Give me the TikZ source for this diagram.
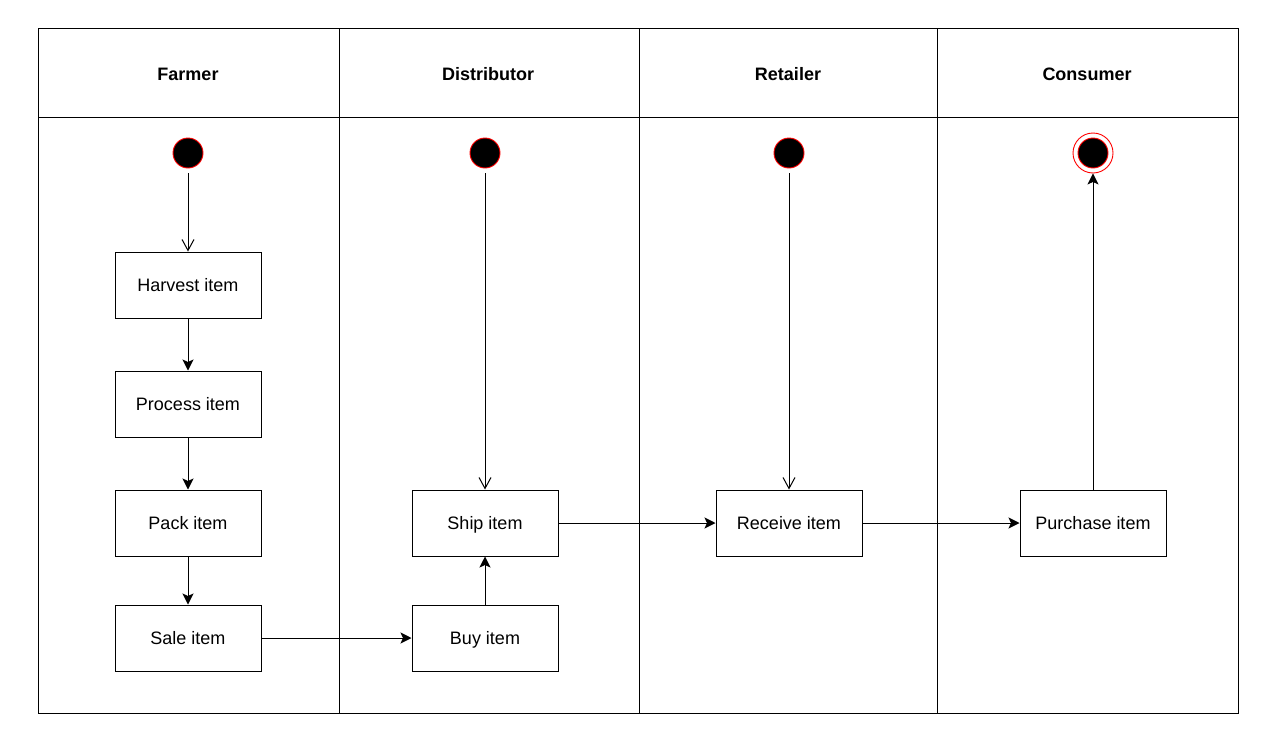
\documentclass[tikz,border=0pt]{standalone}
\usepackage{fontspec}
\setmainfont{Liberation Sans}
\usetikzlibrary{arrows.meta}
\begin{document}
\begin{tikzpicture}[x=1pt,y=-1pt,
  lane/.style={line width=1pt, draw=black},
  lanehead/.style={font=\fontsize{18}{22}\selectfont\bfseries, inner sep=0},
  action/.style={draw, line width=1pt, minimum width=146pt, minimum height=66pt,
    inner sep=0, text height=17pt, text depth=4pt, font=\fontsize{18}{22}\selectfont},
  startdot/.style={circle, fill=black, draw=red, line width=0.9pt, minimum size=30pt, inner sep=0},
  flow/.style={line width=1pt, -{Stealth[length=11pt,width=11pt,inset=2.5pt]}},
  initflow/.style={line width=1pt, -{Straight Barb[length=11pt,width=12pt,line width=1pt]},
    shorten <=5pt}
]
\useasboundingbox (0,0) rectangle (1267,747);

% swimlane frame
\draw[lane] (38,28) rectangle (1238,713);
\draw[lane] (38,117) -- (1238,117);
\draw[lane] (339,28) -- (339,713);
\draw[lane] (639,28) -- (639,713);
\draw[lane] (937,28) -- (937,713);

% lane titles
\node[lanehead] (hFarmer) at (188,74) {Farmer};
\node[lanehead] (hDist) at (488,74) {Distributor};
\node[lanehead] (hRet) at (788,74) {Retailer};
\node[lanehead] (hCons) at (1087,74) {Consumer};

% initial and final nodes
\node[startdot] (s1) at (188,153) {};
\node[startdot] (s2) at (485,153) {};
\node[startdot] (s3) at (789,153) {};
\node[startdot] (fin) at (1093,153) {};
\node[circle, draw=red, line width=0.9pt, minimum size=40pt, inner sep=0] (finring) at (1093,153) {};

% actions
\node[action] (harvest) at (188,285) {Harvest item};
\node[action] (process) at (188,404) {Process item};
\node[action] (pack) at (188,523) {Pack item};
\node[action] (sale) at (188,638) {Sale item};
\node[action] (ship) at (485,523) {Ship item};
\node[action] (buy) at (485,638) {Buy item};
\node[action] (receive) at (789,523) {Receive item};
\node[action] (purchase) at (1093,523) {Purchase item};

% control flow
\draw[initflow] (s1) -- (harvest);
\draw[initflow] (s2) -- (ship);
\draw[initflow] (s3) -- (receive);
\draw[flow] (harvest) -- (process);
\draw[flow] (process) -- (pack);
\draw[flow] (pack) -- (sale);
\draw[flow] (sale) -- (buy);
\draw[flow] (buy) -- (ship);
\draw[flow] (ship) -- (receive);
\draw[flow] (receive) -- (purchase);
\draw[flow] (purchase) -- (finring);
\end{tikzpicture}
\end{document}
